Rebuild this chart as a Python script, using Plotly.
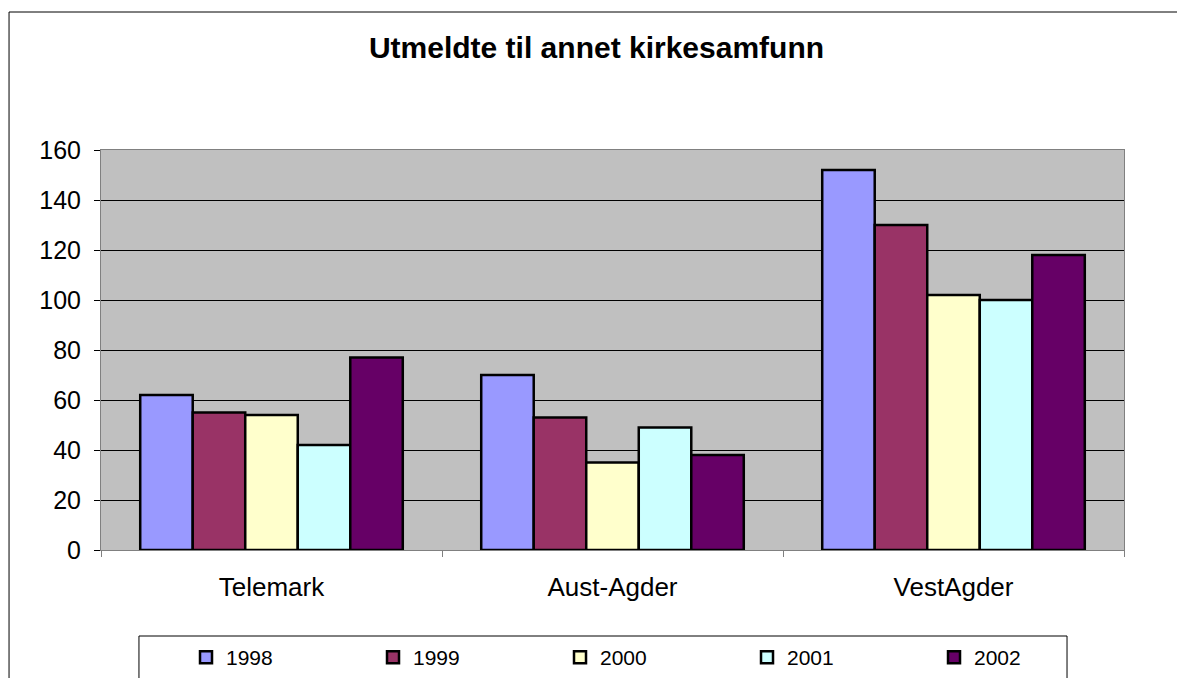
import plotly.graph_objects as go

categories = ["Telemark", "Aust-Agder", "VestAgder"]
years = ["1998", "1999", "2000", "2001", "2002"]
values_1998 = [62, 70, 152]
values_1999 = [55, 53, 130]
values_2000 = [54, 35, 102]
values_2001 = [42, 49, 100]
values_2002 = [77, 38, 118]
series = [values_1998, values_1999, values_2000, values_2001, values_2002]
colors = ["#9999FF", "#993366", "#FFFFCC", "#CCFFFF", "#660066"]
y_ticks = [0, 20, 40, 60, 80, 100, 120, 140, 160]

FONT = "Liberation Sans, Arial, sans-serif"
W, H = 1177, 670  # page body has an 8px margin

fig = go.Figure()
for name, vals, col in zip(years, series, colors):
    fig.add_trace(go.Bar(
        name=name, x=categories, y=vals,
        marker=dict(color=col, line=dict(color="black", width=2.5)),
    ))

fig.update_layout(
    width=W, height=H,
    margin=dict(l=93, r=61, t=142, b=128, autoexpand=False),
    paper_bgcolor="white",
    plot_bgcolor="#C0C0C0",
    barmode="group", bargap=0.23, bargroupgap=0,
    font=dict(family=FONT, color="black"),
    title=dict(text="<b>Utmeldte til annet kirkesamfunn</b>",
               x=0.5, xanchor="center", y=1 - 39 / H, yanchor="middle",
               font=dict(size=30, family=FONT, color="black")),
    showlegend=True,
    legend=dict(orientation="h", x=0.0831, xanchor="left", y=-0.2175, yanchor="top",
                entrywidth=142, entrywidthmode="pixels",
                borderwidth=0, bgcolor="rgba(0,0,0,0)",
                font=dict(size=21, family=FONT), traceorder="normal"),
)

fig.update_yaxes(range=[0, 160], tickvals=y_ticks, showgrid=True, gridcolor="black", gridwidth=1,
                 ticks="outside", ticklen=6, tickcolor="black",
                 showline=True, linecolor="#808080", linewidth=1, mirror=True,
                 tickfont=dict(size=25, family=FONT), zeroline=False, ticklabelstandoff=8)
fig.update_xaxes(tickson="boundaries", ticks="outside", ticklen=6, tickcolor="#808080",
                 showline=True, linecolor="#808080", linewidth=1, mirror=True,
                 tickfont=dict(size=26, family=FONT), ticklabelstandoff=14)

# outer chart border (left and top edges)
fig.add_shape(type="line", xref="paper", yref="paper", x0=-0.0899, x1=-0.0899, y0=1.345, y1=-0.4,
              line=dict(color="black", width=1))
fig.add_shape(type="line", xref="paper", yref="paper", x0=-0.0899, x1=1.1, y0=1.345, y1=1.345,
              line=dict(color="black", width=1))
# legend frame
fig.add_shape(type="rect", xref="paper", yref="paper", x0=0.0371, x1=0.9443, y0=-0.215, y1=-0.4,
              line=dict(color="black", width=1), fillcolor="rgba(0,0,0,0)", layer="below")

fig.write_html("out.html")
